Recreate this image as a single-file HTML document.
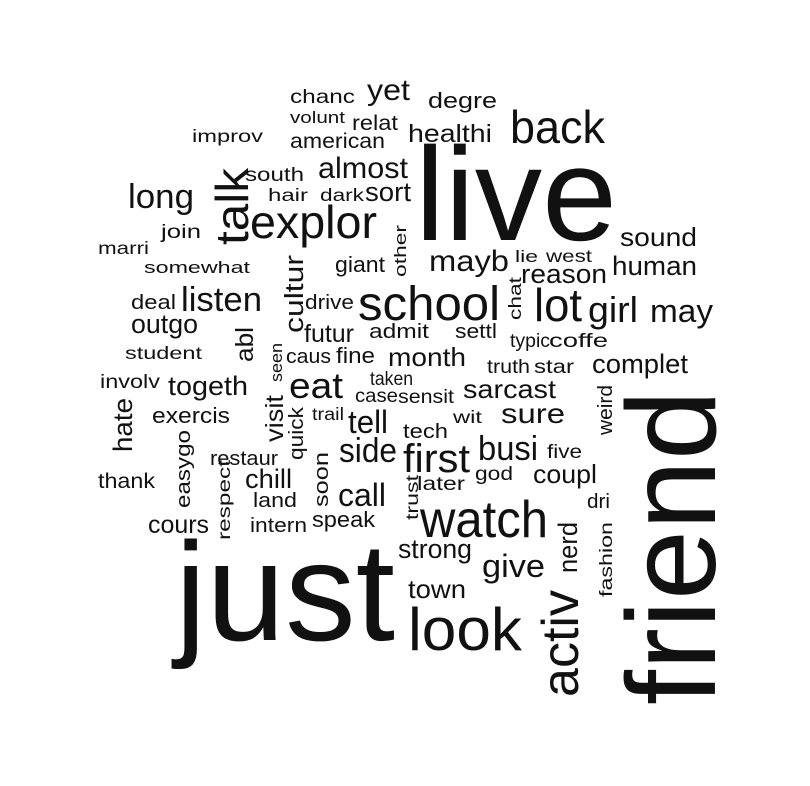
<!DOCTYPE html>
<html><head><meta charset="utf-8"><style>
html,body{margin:0;padding:0;background:#fff;}
svg{display:block;}
text{font-family:"Liberation Sans",Arial,sans-serif;fill:#111;}
</style></head>
<body>
<svg id="cloud" width="810" height="786" viewBox="0 0 810 786" xmlns="http://www.w3.org/2000/svg">
<rect width="810" height="786" fill="#fff"/>
</svg>
<script>
// horizontal words: word, left x, right x, baseline y, font size
const hWords = [
["chanc",290,355,103,17],["yet",367,410,100,30],["degre",428,497,108,20],
["volunt",290,345,123,15],["relat",352,398,130,19],["healthi",408,492,142,22],
["improv",192,263,142,16],["american",290,385,148,19],["back",510,605,143,46],
["live",415,617,240,133],["south",245,304,181,17],["almost",318,408,178,30],
["long",128,194,208,34],["hair",268,308,201,16],["dark",320,364,201,16],
["sort",365,411,201,24],["explor",250,377,238,46],["join",161,201,238,17],
["marri",98,149,254,16],["somewhat",144,250,273,15],["giant",335,385,272,20],
["mayb",429,509,271,30],["lie",515,538,262,15],["west",546,592,262,16],
["reason",521,607,283,24],["sound",620,697,246,26],["human",612,697,275,24],
["school",358,500,320,48],["lot",534,582,321,46],["girl",588,638,322,36],
["may",650,713,322,32],["listen",181,262,311,34],["deal",131,176,309,18],
["drive",305,354,309,18],["outgo",131,198,333,24],["futur",304,354,342,22],
["admit",369,429,338,18],["settl",455,497,338,18],["student",125,202,359,16],
["caus",286,331,363,18],["fine",336,375,363,20],["month",388,466,366,26],
["typic",510,550,347,17],["coffe",549,608,347,17],["truth",487,530,373,17],
["star",534,574,373,17],["complet",592,688,373,24],["involv",100,160,388,17],
["togeth",168,248,395,24],["eat",289,343,398,36],["taken",370,413,385,17],
["case",355,398,402,17],["sensit",398,454,403,17],["sarcast",463,556,398,26],
["exercis",152,230,423,20],["trail",312,344,420,16],["tell",348,388,433,32],
["wit",453,482,423,16],["tech",403,448,438,18],["sure",501,565,423,28],
["side",339,397,462,34],["first",403,470,472,40],["busi",478,538,460,34],
["restaur",210,278,465,18],["thank",98,155,488,19],["chill",245,292,488,24],
["land",253,297,507,18],["call",338,386,506,32],["later",417,465,490,17],
["god",475,513,480,17],["five",547,582,458,17],["coupl",533,597,483,26],
["dri",587,610,508,18],
["speak",312,375,527,20],["cours",148,209,533,22],["intern",250,307,532,18],
["strong",398,472,558,24],["give",482,545,577,32],["town",408,466,598,26],
["watch",420,548,537,52],["look",408,522,650,60],["just",175,395,640,140]
];
// vertical words (reading upward): word, baseline x, bottom y, top y, font size
const vWords = [
["talk",248,245,168,46],["other",406,277,225,15],["cultur",303,333,255,23],
["chat",521,320,277,16],["abl",253,362,327,22],["seen",282,382,343,15],
["hate",132,452,398,24],["visit",283,442,395,22],["quick",303,460,407,18],
["weird",612,435,385,18],["easygo",190,508,430,18],["respect",230,540,460,16],
["soon",328,507,452,18],["trust",418,520,475,16],
["nerd",577,573,522,24],["fashion",612,597,522,16],["activ",578,697,590,52],
["friend",715,705,390,126]
];
const svg = document.getElementById('cloud');
const NS = 'http://www.w3.org/2000/svg';
function fs(s){ return s < 25 ? s * 1.12 : s; }
for (const w of hWords) {
  const t = document.createElementNS(NS, 'text');
  t.setAttribute('x', w[1]);
  t.setAttribute('y', w[3]);
  t.setAttribute('font-size', fs(w[4]));
  t.setAttribute('textLength', w[2] - w[1]);
  t.setAttribute('lengthAdjust', 'spacingAndGlyphs');
  t.textContent = w[0];
  
  
  svg.appendChild(t);
}
for (const w of vWords) {
  const t = document.createElementNS(NS, 'text');
  t.setAttribute('transform', 'translate(' + w[1] + ',' + w[2] + ') rotate(-90)');
  t.setAttribute('x', 0);
  t.setAttribute('y', 0);
  t.setAttribute('font-size', fs(w[4]));
  t.setAttribute('textLength', w[2] - w[3]);
  t.setAttribute('lengthAdjust', 'spacingAndGlyphs');
  t.textContent = w[0];
  
  
  svg.appendChild(t);
}
</script>
</body></html>
